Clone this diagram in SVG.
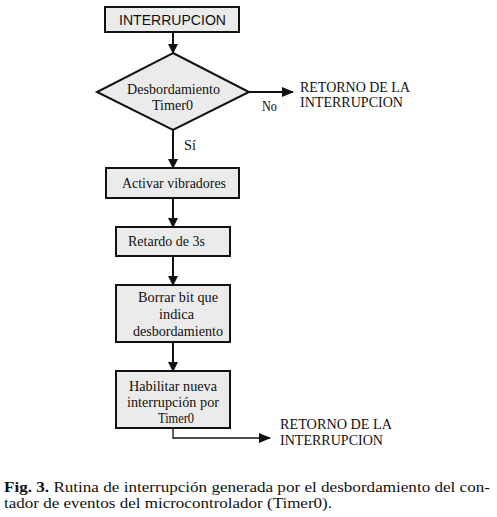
<svg xmlns="http://www.w3.org/2000/svg" width="497" height="517" viewBox="0 0 497 517">
<style>
.box{fill:#ebebeb;stroke:#111;stroke-width:2}
.t{font-family:'Liberation Serif','Times New Roman',serif;font-size:14px;fill:#111}
.s{font-family:'Liberation Sans',Arial,sans-serif;font-size:14px;fill:#111}
.c{font-family:'Liberation Serif','Times New Roman',serif;font-size:14px;fill:#111}
.ln{fill:none;stroke:#111;stroke-width:2}
.ln1{fill:none;stroke:#111;stroke-width:1.3}
</style>
<defs>
<marker id="ah" markerWidth="10" markerHeight="10" refX="9" refY="5" orient="auto" markerUnits="userSpaceOnUse" viewBox="0 0 10 10">
<path d="M0,0 L10,5 L0,10 Z" fill="#111"/>
</marker>
<marker id="ah2" markerWidth="12" markerHeight="10" refX="11" refY="5" orient="auto" markerUnits="userSpaceOnUse" viewBox="0 0 12 10">
<path d="M0,0 L12,5 L0,10 Z" fill="#111"/>
</marker>
</defs>
<rect width="497" height="517" fill="#fff"/>
<g id="connectors">
<line class="ln" x1="173" y1="33" x2="173" y2="53" marker-end="url(#ah)"/>
<line class="ln" x1="249" y1="92" x2="293" y2="92" marker-end="url(#ah2)"/>
<line class="ln" x1="173" y1="130" x2="173" y2="168" marker-end="url(#ah)"/>
<line class="ln" x1="173" y1="198" x2="173" y2="227" marker-end="url(#ah)"/>
<line class="ln" x1="173" y1="256" x2="173" y2="285" marker-end="url(#ah)"/>
<line class="ln" x1="173" y1="342" x2="173" y2="371" marker-end="url(#ah)"/>
<polyline class="ln1" points="173,428 173,438 270,438" marker-end="url(#ah2)"/>
<text class="t" x="262" y="111" textLength="15" lengthAdjust="spacingAndGlyphs">No</text>
<text class="t" x="184" y="150" textLength="12" lengthAdjust="spacingAndGlyphs">Sí</text>
</g>
<g id="n_start">
<rect class="box" x="105" y="7" width="134" height="25"/>
<text class="s" x="119" y="25" textLength="107" lengthAdjust="spacingAndGlyphs">INTERRUPCION</text>
</g>
<g id="n_decision">
<polygon class="box" points="173,53 249,92 173,130 97,92"/>
<text class="t" x="127" y="94" textLength="93" lengthAdjust="spacingAndGlyphs">Desbordamiento</text>
<text class="t" x="152" y="110" textLength="41" lengthAdjust="spacingAndGlyphs">Timer0</text>
</g>
<g id="n_ret1">
<text class="t" x="300" y="92" textLength="110" lengthAdjust="spacingAndGlyphs">RETORNO DE LA</text>
<text class="t" x="300" y="107" textLength="103" lengthAdjust="spacingAndGlyphs">INTERRUPCION</text>
</g>
<g id="n_activar">
<rect class="box" x="106" y="168" width="133" height="30"/>
<text class="t" x="122" y="188" textLength="104" lengthAdjust="spacingAndGlyphs">Activar vibradores</text>
</g>
<g id="n_retardo">
<rect class="box" x="116" y="227" width="114" height="29"/>
<text class="t" x="128" y="246" textLength="77" lengthAdjust="spacingAndGlyphs">Retardo de 3s</text>
</g>
<g id="n_borrar">
<rect class="box" x="116" y="285" width="114" height="57"/>
<text class="t" x="138" y="302" textLength="80" lengthAdjust="spacingAndGlyphs">Borrar bit que</text>
<text class="t" x="159" y="319" textLength="35" lengthAdjust="spacingAndGlyphs">indica</text>
<text class="t" x="133" y="336" textLength="90" lengthAdjust="spacingAndGlyphs">desbordamiento</text>
</g>
<g id="n_habilitar">
<rect class="box" x="116" y="371" width="114" height="57"/>
<text class="t" x="129" y="391" textLength="88" lengthAdjust="spacingAndGlyphs">Habilitar nueva</text>
<text class="t" x="127" y="407" textLength="92" lengthAdjust="spacingAndGlyphs">interrupción por</text>
<text class="t" x="158" y="423" textLength="36" lengthAdjust="spacingAndGlyphs">Timer0</text>
</g>
<g id="n_ret2">
<text class="t" x="280" y="429" textLength="112" lengthAdjust="spacingAndGlyphs">RETORNO DE LA</text>
<text class="t" x="280" y="445" textLength="103" lengthAdjust="spacingAndGlyphs">INTERRUPCION</text>
</g>
<g id="caption">
<text class="c" x="4" y="492" textLength="486" lengthAdjust="spacingAndGlyphs"><tspan font-weight="bold">Fig. 3.</tspan> Rutina de interrupción generada por el desbordamiento del con-</text>
<text class="c" x="4" y="508" textLength="328" lengthAdjust="spacingAndGlyphs">tador de eventos del microcontrolador (Timer0).</text>
</g>
</svg>
